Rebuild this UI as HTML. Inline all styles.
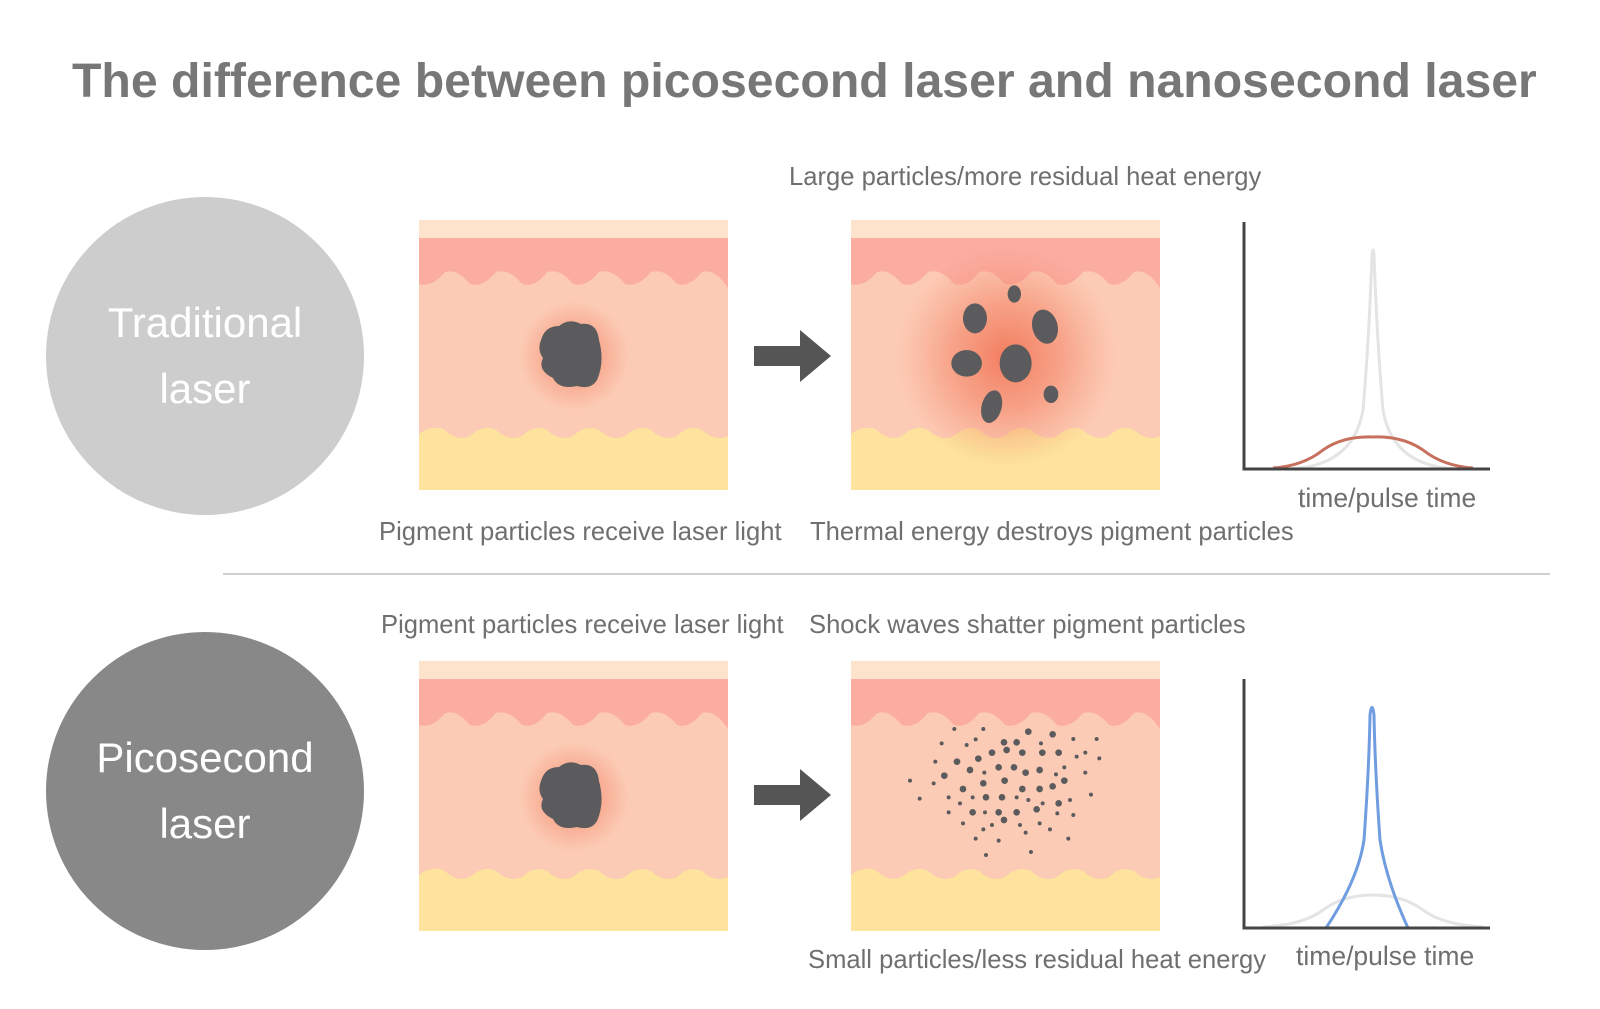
<!DOCTYPE html>
<html><head><meta charset="utf-8"><style>
html,body{margin:0;padding:0;background:#fff;}
body{width:1600px;height:1009px;position:relative;overflow:hidden;font-family:"Liberation Sans",sans-serif;}
.t{position:absolute;white-space:nowrap;color:#6f6f6f;font-size:25.6px;}
.circ{position:absolute;width:318px;height:318px;border-radius:50%;color:#fff;font-size:42px;text-align:center;line-height:66px;display:flex;align-items:center;justify-content:center;}
svg{position:absolute;}
</style></head><body>
<div class="t" style="left:72px;top:53px;font-size:48.2px;font-weight:bold;color:#777;">The difference between picosecond laser and nanosecond laser</div>

<div class="circ" style="left:46px;top:197px;background:#cdcdcd;"><div>Traditional<br>laser</div></div>
<div class="circ" style="left:46px;top:632px;background:#888;"><div>Picosecond<br>laser</div></div>

<div class="t" style="left:789px;top:163px;">Large particles/more residual heat energy</div>
<div class="t" style="left:379px;top:518px;">Pigment particles receive laser light</div>
<div class="t" style="left:810px;top:518px;">Thermal energy destroys pigment particles</div>
<div class="t" style="left:1298px;top:483px;font-size:26.5px;">time/pulse time</div>
<div style="position:absolute;left:223px;top:573px;width:1327px;height:2px;background:#d0d0d0;"></div>
<div class="t" style="left:381px;top:611px;">Pigment particles receive laser light</div>
<div class="t" style="left:809px;top:611px;">Shock waves shatter pigment particles</div>
<div class="t" style="left:808px;top:946px;">Small particles/less residual heat energy</div>
<div class="t" style="left:1296px;top:941px;font-size:26.5px;">time/pulse time</div>

<svg width="0" height="0"><defs>
<radialGradient id="g1"><stop offset="0" stop-color="#f06848" stop-opacity=".8"/><stop offset=".5" stop-color="#f27a5c" stop-opacity=".5"/><stop offset="1" stop-color="#f58a70" stop-opacity="0"/></radialGradient>
<radialGradient id="g2"><stop offset="0" stop-color="#f07050" stop-opacity=".7"/><stop offset="1" stop-color="#f07050" stop-opacity="0"/></radialGradient>
<g id="skin">
<rect x="0" y="0" width="309" height="270" fill="#fccbb5"/>
<rect x="0" y="0" width="309" height="18" fill="#fde3cb"/>
<path d="M0 18 H309 V68 Q296 48 283 52 Q270 68 258 64 Q245 48 232 52 Q219 68 206 64 Q193 48 180 52 Q167 68 154 64 Q141 48 128 52 Q116 68 103 64 Q90 48 77 52 Q64 68 51 64 Q38 48 26 52 Q13 68 0 64 Z" fill="#fbada0"/>
<path d="M0 214 Q13 204 26 210 Q38 222 51 216 Q64 204 77 210 Q90 222 103 216 Q116 204 128 210 Q141 222 154 216 Q167 204 180 210 Q193 222 206 216 Q219 204 232 210 Q245 222 258 216 Q270 204 283 210 Q296 222 309 216 V270 H0 Z" fill="#fde39d"/>
</g>
<g id="blob">
<circle cx="155" cy="136" r="55" fill="url(#g2)"/>
<path d="M122 120 Q126 106 140 106 Q150 98 162 104 Q178 102 180 120 Q186 142 178 160 Q172 170 158 166 Q140 170 134 158 Q118 150 124 138 Q118 130 122 120Z" fill="#5b5b5d"/>
</g>
</defs></svg>

<!-- top row -->
<svg style="left:419px;top:220px" width="309" height="270"><use href="#skin"/><use href="#blob"/></svg>
<svg style="left:851px;top:220px" width="309" height="270"><use href="#skin"/>
<g transform="translate(-31,-20) scale(0.3333)">
<ellipse cx="560" cy="470" rx="330" ry="330" fill="url(#g1)"/>
<g fill="#5b5b5d">
<ellipse cx="583" cy="282" rx="20" ry="26"/>
<ellipse cx="465" cy="355" rx="36" ry="45"/>
<ellipse cx="675" cy="380" rx="38" ry="52" transform="rotate(-15 675 380)"/>
<ellipse cx="440" cy="490" rx="46" ry="40"/>
<ellipse cx="587" cy="490" rx="48" ry="57"/>
<ellipse cx="515" cy="620" rx="30" ry="50" transform="rotate(15 515 620)"/>
<ellipse cx="693" cy="583" rx="22" ry="26"/>
</g></g></svg>

<!-- bottom row -->
<svg style="left:419px;top:661px" width="309" height="270"><use href="#skin"/><use href="#blob"/></svg>
<svg style="left:851px;top:661px" width="309" height="270"><use href="#skin"/>
<g transform="translate(-1,39) scale(0.3333)" fill="#5b5b5d">
<g>
<circle cx="313" cy="87" r="6"/><circle cx="400" cy="87" r="6"/><circle cx="535" cy="95" r="10"/><circle cx="608" cy="103" r="10"/><circle cx="275" cy="130" r="6"/><circle cx="350" cy="135" r="6"/><circle cx="377" cy="118" r="6"/><circle cx="462" cy="127" r="10"/><circle cx="500" cy="127" r="10"/><circle cx="573" cy="130" r="6"/><circle cx="670" cy="117" r="6"/><circle cx="740" cy="117" r="6"/><circle cx="426" cy="158" r="10"/><circle cx="470" cy="150" r="10"/><circle cx="517" cy="158" r="10"/><circle cx="577" cy="158" r="10"/><circle cx="626" cy="158" r="10"/><circle cx="680" cy="170" r="6"/><circle cx="706" cy="158" r="6"/><circle cx="748" cy="175" r="6"/><circle cx="256" cy="185" r="6"/><circle cx="321" cy="185" r="10"/><circle cx="385" cy="176" r="10"/><circle cx="360" cy="210" r="10"/><circle cx="403" cy="218" r="6"/><circle cx="446" cy="202" r="10"/><circle cx="492" cy="202" r="10"/><circle cx="527" cy="218" r="10"/><circle cx="569" cy="210" r="10"/><circle cx="618" cy="223" r="6"/><circle cx="643" cy="202" r="6"/><circle cx="706" cy="218" r="6"/><circle cx="283" cy="227" r="10"/><circle cx="180" cy="242" r="6"/><circle cx="251" cy="250" r="6"/><circle cx="400" cy="250" r="10"/><circle cx="464" cy="242" r="10"/><circle cx="643" cy="242" r="10"/><circle cx="608" cy="259" r="10"/><circle cx="569" cy="267" r="10"/><circle cx="517" cy="267" r="10"/><circle cx="339" cy="267" r="10"/><circle cx="209" cy="296" r="6"/><circle cx="296" cy="292" r="6"/><circle cx="330" cy="310" r="6"/><circle cx="368" cy="292" r="6"/><circle cx="408" cy="292" r="10"/><circle cx="456" cy="292" r="10"/><circle cx="500" cy="292" r="6"/><circle cx="535" cy="300" r="6"/><circle cx="578" cy="310" r="6"/><circle cx="626" cy="310" r="10"/><circle cx="660" cy="300" r="6"/><circle cx="723" cy="284" r="6"/><circle cx="296" cy="337" r="6"/><circle cx="368" cy="337" r="10"/><circle cx="405" cy="337" r="6"/><circle cx="446" cy="337" r="10"/><circle cx="500" cy="337" r="10"/><circle cx="560" cy="328" r="10"/><circle cx="622" cy="340" r="6"/><circle cx="670" cy="345" r="6"/><circle cx="462" cy="360" r="10"/><circle cx="339" cy="370" r="6"/><circle cx="426" cy="375" r="6"/><circle cx="400" cy="388" r="6"/><circle cx="510" cy="375" r="6"/><circle cx="569" cy="370" r="6"/><circle cx="527" cy="398" r="6"/><circle cx="600" cy="388" r="6"/><circle cx="377" cy="416" r="6"/><circle cx="446" cy="422" r="6"/><circle cx="655" cy="416" r="6"/><circle cx="408" cy="465" r="6"/><circle cx="543" cy="456" r="6"/>
</g></g></svg>

<!-- arrows -->
<svg style="left:754px;top:326px" width="80" height="60"><path d="M0 20 H46 V4 L77 30 L46 56 V40 H0 Z" fill="#555"/></svg>
<svg style="left:754px;top:765px" width="80" height="60"><path d="M0 20 H46 V4 L77 30 L46 56 V40 H0 Z" fill="#555"/></svg>

<!-- graphs -->
<svg style="left:1233px;top:210px" width="270" height="270" fill="none">
<path d="M50 259 Q120 259 130 200 Q136 130 139 45 Q140 35 141 45 Q144 130 150 200 Q160 259 230 259" stroke="#e4e4e4" stroke-width="3"/>
<path d="M40 258 Q70 256 90 240 Q110 226 140 227 Q170 226 190 240 Q210 256 240 258" stroke="#c8705e" stroke-width="3"/>
<path d="M11 12 V259 H257" stroke="#444" stroke-width="3"/>
</svg>
<svg style="left:1233px;top:670px" width="270" height="270" fill="none">
<path d="M30 257 Q70 255 90 240 Q110 225 140 225 Q170 225 190 240 Q210 255 250 257" stroke="#e4e4e4" stroke-width="3"/>
<path d="M93 258 Q125 210 131 170 Q136 100 137 45 Q139 30 141 45 Q142 100 147 170 Q153 210 175 258" stroke="#6f9de0" stroke-width="3"/>
<path d="M11 9 V258 H257" stroke="#444" stroke-width="3"/>
</svg>
</body></html>
